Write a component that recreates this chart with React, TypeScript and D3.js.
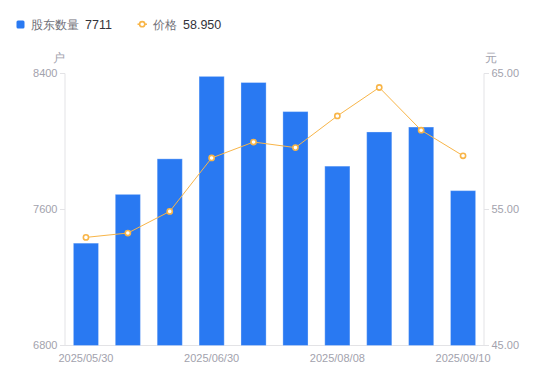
import React from "react";
import * as d3 from "d3";

const categories = [
  "2025/05/30", "2025/06/10", "2025/06/20", "2025/06/30", "2025/07/10",
  "2025/07/20", "2025/08/08", "2025/08/20", "2025/08/29", "2025/09/10",
];
const holders = [7402, 7689, 7898, 8383, 8347, 8176, 7855, 8056, 8085, 7711];
const prices = [52.95, 53.27, 54.86, 58.79, 59.96, 59.55, 61.88, 63.97, 60.83, 58.95];
const leftTicks = [6800, 7600, 8400];
const rightTicks = [45, 55, 65];
const xLabelIdx = [0, 3, 6, 9];

const W = 550, H = 381;
const L = 65, R = 484, T = 73.5, B = 345.5;
const BLUE = "#2979f2";
const ORANGE = "#f8b548";
const AXIS_TXT = "#a2a2ad";
const AXIS_LINE = "#e3e3e6";
const FONT = "'Liberation Sans', Arial, sans-serif";

export default function App() {
  const x = d3.scaleBand<string>().domain(categories).range([L, R]).paddingInner(0.4).paddingOuter(0.2);
  const y = d3.scaleLinear().domain([6800, 8400]).range([B, T]);
  const y2 = d3.scaleLinear().domain([45, 65]).range([B, T]);
  const line = d3.line<number>()
    .x((_, i) => (x(categories[i]) as number) + x.bandwidth() / 2)
    .y((d) => y2(d));

  return (
    <svg width={W} height={H} style={{ position: "absolute", left: 0, top: 0, fontFamily: FONT }}>
      {/* legend */}
      <rect x={16.5} y={20.5} width={8} height={8} rx={1.5} fill={BLUE} />
      <text x={31} y={29} fontSize={12} fill="#707078">股东数量</text>
      <text x={85} y={29} fontSize={12.5} fill="#33333a">{holders[holders.length - 1]}</text>
      <line x1={137.5} x2={147} y1={24.2} y2={24.2} stroke={ORANGE} strokeWidth={1.5} />
      <circle cx={142.2} cy={24.2} r={2.6} fill="#fff" stroke={ORANGE} strokeWidth={1.6} />
      <text x={153} y={29} fontSize={12} fill="#707078">价格</text>
      <text x={183} y={29} fontSize={12.5} fill="#33333a">{prices[prices.length - 1].toFixed(3)}</text>

      {/* unit labels */}
      <text x={59} y={61.5} fontSize={12} fill={AXIS_TXT} textAnchor="middle">户</text>
      <text x={490.5} y={61.5} fontSize={12} fill={AXIS_TXT} textAnchor="middle">元</text>

      {/* axes */}
      <line x1={L} x2={L} y1={T} y2={B} stroke={AXIS_LINE} />
      <line x1={R} x2={R} y1={T} y2={B} stroke={AXIS_LINE} />
      <line x1={L} x2={R} y1={B} y2={B} stroke={AXIS_LINE} />
      {leftTicks.map((t) => (
        <g key={"l" + t}>
          <line x1={L - 5} x2={L} y1={y(t)} y2={y(t)} stroke={AXIS_LINE} />
          <text x={57.5} y={y(t)} dy="0.35em" fontSize={11} fill={AXIS_TXT} textAnchor="end">{t}</text>
        </g>
      ))}
      {rightTicks.map((t) => (
        <g key={"r" + t}>
          <line x1={R} x2={R + 5} y1={y2(t)} y2={y2(t)} stroke={AXIS_LINE} />
          <text x={491.5} y={y2(t)} dy="0.35em" fontSize={11} fill={AXIS_TXT} textAnchor="start">{t.toFixed(2)}</text>
        </g>
      ))}
      {xLabelIdx.map((i) => (
        <text key={"x" + i} x={(x(categories[i]) as number) + x.bandwidth() / 2} y={358} dy="0.35em"
          fontSize={11} fill={AXIS_TXT} textAnchor="middle">{categories[i]}</text>
      ))}

      {/* bars */}
      {holders.map((v, i) => (
        <rect key={"b" + i} x={x(categories[i]) as number} y={y(v)} width={x.bandwidth()} height={B - y(v)}
          fill={BLUE} stroke="rgba(255,255,255,0.3)" strokeWidth={1} />
      ))}

      {/* line */}
      <path d={line(prices) || ""} fill="none" stroke={ORANGE} strokeWidth={1} />
      {prices.map((v, i) => (
        <circle key={"p" + i} cx={(x(categories[i]) as number) + x.bandwidth() / 2} cy={y2(v)} r={2.6}
          fill="#fff" stroke={ORANGE} strokeWidth={1.6} />
      ))}
    </svg>
  );
}
